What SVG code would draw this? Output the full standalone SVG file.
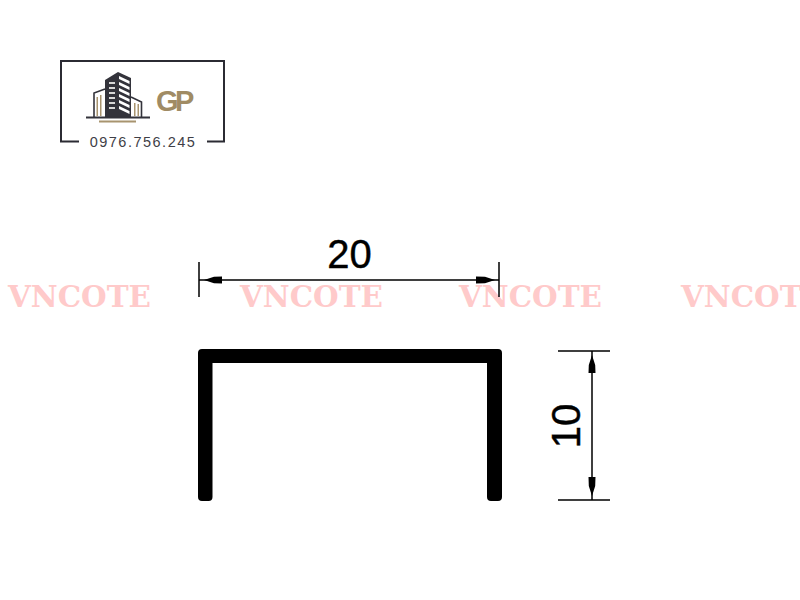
<svg xmlns="http://www.w3.org/2000/svg" width="800" height="600" viewBox="0 0 800 600">
<style>
.wm{font-family:"DejaVu Serif","Liberation Serif",serif;font-weight:700;font-size:30px;fill:#ffcaca}
.dim{font-family:"Liberation Sans",Arial,sans-serif;font-size:40px;fill:#000;stroke:#000;stroke-width:.4}
.dl{stroke:#000;stroke-width:1.5;fill:none}
.frame{stroke:#2b2b33;stroke-width:2;fill:none}
.dk{fill:#33333b}
.tan{fill:#a8946f}
</style>
<rect width="800" height="600" fill="#fff"/>
<g id="watermark">
<text class="wm" x="8" y="307" textLength="143" lengthAdjust="spacingAndGlyphs">VNCOTE</text>
<text class="wm" x="240" y="307" textLength="143" lengthAdjust="spacingAndGlyphs">VNCOTE</text>
<text class="wm" x="459" y="307" textLength="143" lengthAdjust="spacingAndGlyphs">VNCOTE</text>
<text class="wm" x="681" y="307" textLength="143" lengthAdjust="spacingAndGlyphs">VNCOTE</text>
</g>
<g id="logo">
<path class="frame" d="M79 141.500H61V61H224V141.500H207"/>
<text x="143" y="146.500" text-anchor="middle" font-family="'Liberation Sans',Arial,sans-serif" font-size="14.500" letter-spacing="1.500" fill="#3f3f47">0976.756.245</text>
<path class="dk" d="M105 80L118 72L131 78V117H105Z"/>
<path fill="#fff" d="M119 76L129.500 81V84L119 79ZM119 82L129.500 87V90L119 85ZM119 88L129.500 93V96L119 91ZM119 94L129.500 99V102L119 97ZM119 100L129.500 105V108L119 103ZM119 106L129.500 111V114L119 109Z"/>
<path fill="#d8d8d8" d="M109 82h6v2h-6zM109 87h6v2h-6zM109 92h6v2h-6zM109 97h6v2h-6zM109 102h6v2h-6zM109 107h6v2h-6z"/>
<path fill="none" stroke="#33333b" stroke-width="1.600" d="M94 117V93L105 89M131 97L141.500 102V117"/>
<path class="tan" d="M96.500 97h1.500v19h-1.500zM100 95h1.500v21h-1.500zM134 103h1.500v13h-1.500zM137.500 104h1.500v12h-1.500z"/>
<rect class="dk" x="86" y="116.500" width="64" height="2"/>
<rect class="tan" x="99" y="120.500" width="37" height="2"/>
<text x="156" y="111" font-family="'Liberation Sans',Arial,sans-serif" font-weight="700" font-size="29" letter-spacing="-3.500" fill="#a08b64">GP</text>
</g>
<g id="profile">
<path fill="#000" d="M202 349H498Q502 349 502 353V497Q502 501 498 501H491Q487 501 487 497V363H212.500V497Q212.500 501 208.500 501H202Q198 501 198 497V353Q198 349 202 349Z"/>
</g>
<g id="connectors">
<path class="dl" d="M199 262V297M499 262V297M199 280H499"/>
<path d="M204 280L214 276.800L222 276.500V283.500L214 283.200Z M495 280L485 276.800L476 276.500V283.500L485 283.200Z"/>
<path class="dl" d="M558 351H610M558 500H610M592 351V500"/>
<path d="M592 355L588.800 365L588.500 373H595.500L595.200 365Z M592 496L588.800 486L588.500 477H595.500L595.200 486Z"/>
</g>
<g id="labels">
<text class="dim" x="349.500" y="268" text-anchor="middle">20</text>
<text class="dim" transform="translate(580 426) rotate(-90)" text-anchor="middle">10</text>
</g>
</svg>
